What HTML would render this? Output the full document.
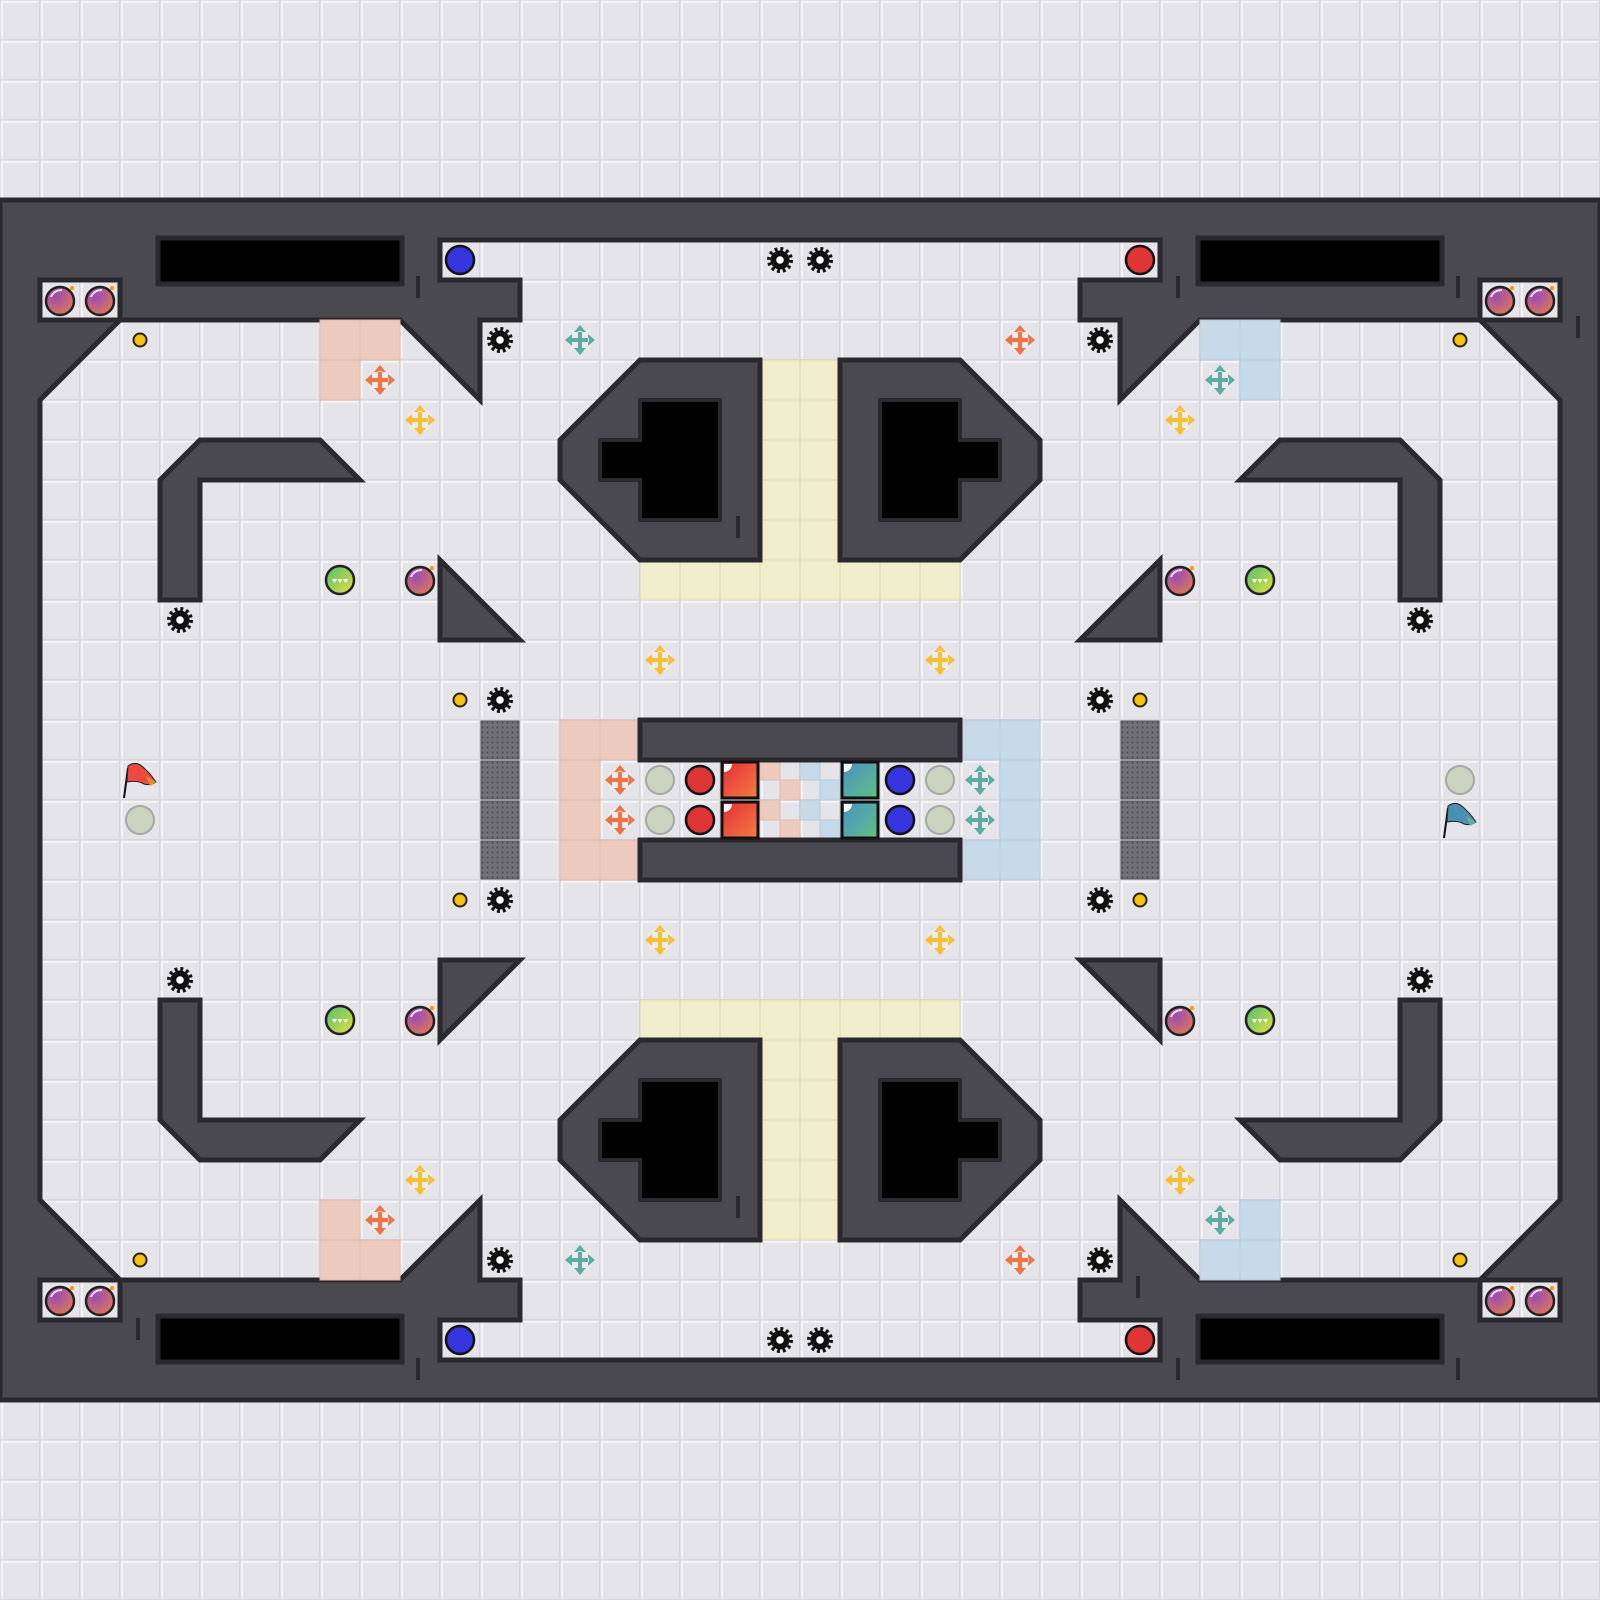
<!DOCTYPE html>
<html><head><meta charset="utf-8"><style>html,body{margin:0;padding:0;background:#e4e4e9}svg{display:block}</style></head><body>
<svg width="1600" height="1600" viewBox="0 0 1600 1600" xmlns="http://www.w3.org/2000/svg">
<defs>
<pattern id="tile" width="40" height="40" patternUnits="userSpaceOnUse"><rect width="40" height="40" fill="#d6d6dc"/><rect x="1" y="1" width="38" height="38" fill="#e4e4e9"/><path d="M1 1.7H39M1.7 1V39" stroke="#f4f4f7" stroke-width="2"/></pattern>
<pattern id="dots" width="5" height="5" patternUnits="userSpaceOnUse"><rect width="5" height="5" fill="#707075"/><circle cx="2.5" cy="2.5" r="1" fill="#4a4a4f"/></pattern>
<radialGradient id="bg" cx="0.35" cy="0.3" r="0.8"><stop offset="0" stop-color="#9a4ab8"/><stop offset="1" stop-color="#e07a50"/></radialGradient>
<linearGradient id="gg" x1="0" y1="0" x2="1" y2="1"><stop offset="0" stop-color="#4cc070"/><stop offset="1" stop-color="#e8e040"/></linearGradient>
<linearGradient id="rs" x1="0" y1="0" x2="1" y2="1"><stop offset="0" stop-color="#e82a3a"/><stop offset="1" stop-color="#f08040"/></linearGradient>
<linearGradient id="bs" x1="0" y1="0" x2="1" y2="1"><stop offset="0" stop-color="#4a90c8"/><stop offset="1" stop-color="#60c080"/></linearGradient>
<symbol id="gear" viewBox="0 0 40 40"><circle cx="20" cy="20" r="10.5" fill="none" stroke="#111" stroke-width="5" stroke-dasharray="2.7 2.8"/><circle cx="20" cy="20" r="9.5" fill="#111"/><circle cx="20" cy="20" r="3.8" fill="#fff"/></symbol>
<symbol id="bomb" viewBox="0 0 40 40"><circle cx="20" cy="21" r="14" fill="url(#bg)" stroke="#222" stroke-width="2.5"/><path d="M11 17 Q14 10 22 10" stroke="#fff" stroke-width="2" fill="none" opacity="0.8"/><circle cx="32" cy="8" r="2" fill="#f90"/></symbol>
<symbol id="green" viewBox="0 0 40 40"><circle cx="20" cy="20" r="14" fill="url(#gg)" stroke="#222" stroke-width="2.5"/><path d="M12 19h5l-2.5 4zM17.5 19h5l-2.5 4zM23 19h5l-2.5 4z" fill="#fff"/></symbol>
<symbol id="ydot" viewBox="0 0 40 40"><circle cx="20" cy="20" r="6.5" fill="#f6c400" stroke="#222" stroke-width="2"/></symbol>
<symbol id="arr" viewBox="0 0 40 40"><circle cx="20" cy="20" r="13" fill="#ececef" stroke="#dcdce0" stroke-dasharray="2 2"/><path d="M18 11h4v18h-4zM11 18h18v4H11zM20 5l-6 7h12zM20 35l-6-7h12zM5 20l7-6v12zM35 20l-7-6v12z"/></symbol>
<symbol id="pale" viewBox="0 0 40 40"><circle cx="20" cy="20" r="14" fill="#cbd4bc" stroke="#a6a6a6" stroke-width="2"/></symbol>
</defs>
<rect width="1600" height="1600" fill="url(#tile)"/>
<!-- frame -->
<rect x="0" y="200" width="1600" height="1200" fill="#4a494f" stroke="#2a292e" stroke-width="5"/>
<!-- bomb boxes -->
<g fill="url(#tile)" stroke="#2a292e" stroke-width="5">
<rect x="40" y="280" width="80" height="40"/><rect x="1480" y="280" width="80" height="40"/>
<rect x="40" y="1280" width="80" height="40"/><rect x="1480" y="1280" width="80" height="40"/>
</g>
<!-- black slots -->
<g fill="#000" stroke="#2a292e" stroke-width="5">
<rect x="158" y="238" width="244" height="46"/><rect x="1198" y="238" width="244" height="46"/>
<rect x="158" y="1316" width="244" height="46"/><rect x="1198" y="1316" width="244" height="46"/>
</g>
<!-- main floor -->
<polygon fill="url(#tile)" stroke="#2a292e" stroke-width="5" stroke-linejoin="miter" points="120,320 400,320 480,400 480,320 520,320 520,280 440,280 440,240 1160,240 1160,280 1080,280 1080,320 1120,320 1120,400 1200,320 1480,320 1560,400 1560,1200 1480,1280 1200,1280 1120,1200 1120,1280 1080,1280 1080,1320 1160,1320 1160,1360 440,1360 440,1320 520,1320 520,1280 480,1280 480,1200 400,1280 120,1280 40,1200 40,400"/>
<!-- tinted tiles -->
<g fill="#eccabd" stroke="#e0bcaf" stroke-width="1">
<rect x="320" y="320" width="40" height="40"/><rect x="360" y="320" width="40" height="40"/><rect x="320" y="360" width="40" height="40"/>
<rect x="320" y="1200" width="40" height="40"/><rect x="320" y="1240" width="40" height="40"/><rect x="360" y="1240" width="40" height="40"/>
<rect x="560" y="720" width="40" height="40"/><rect x="600" y="720" width="40" height="40"/><rect x="560" y="760" width="40" height="40"/><rect x="560" y="800" width="40" height="40"/><rect x="560" y="840" width="40" height="40"/><rect x="600" y="840" width="40" height="40"/>
<rect x="760" y="760" width="20" height="20"/><rect x="780" y="780" width="20" height="20"/><rect x="760" y="800" width="20" height="20"/><rect x="780" y="820" width="20" height="20"/>
</g>
<g fill="#c6d9e7" stroke="#b8ccdb" stroke-width="1">
<rect x="1200" y="320" width="40" height="40"/><rect x="1240" y="320" width="40" height="40"/><rect x="1240" y="360" width="40" height="40"/>
<rect x="1240" y="1200" width="40" height="40"/><rect x="1200" y="1240" width="40" height="40"/><rect x="1240" y="1240" width="40" height="40"/>
<rect x="960" y="720" width="40" height="40"/><rect x="1000" y="720" width="40" height="40"/><rect x="1000" y="760" width="40" height="40"/><rect x="1000" y="800" width="40" height="40"/><rect x="960" y="840" width="40" height="40"/><rect x="1000" y="840" width="40" height="40"/>
<rect x="800" y="760" width="20" height="20"/><rect x="820" y="780" width="20" height="20"/><rect x="800" y="800" width="20" height="20"/><rect x="820" y="820" width="20" height="20"/>
</g>
<g fill="#efedca" stroke="#dcdab5" stroke-width="1">
<rect x="640" y="560" width="40" height="40"/><rect x="680" y="560" width="40" height="40"/><rect x="720" y="560" width="40" height="40"/><rect x="760" y="560" width="40" height="40"/><rect x="800" y="560" width="40" height="40"/><rect x="840" y="560" width="40" height="40"/><rect x="880" y="560" width="40" height="40"/><rect x="920" y="560" width="40" height="40"/>
<rect x="760" y="360" width="40" height="40"/><rect x="800" y="360" width="40" height="40"/><rect x="760" y="400" width="40" height="40"/><rect x="800" y="400" width="40" height="40"/><rect x="760" y="440" width="40" height="40"/><rect x="800" y="440" width="40" height="40"/><rect x="760" y="480" width="40" height="40"/><rect x="800" y="480" width="40" height="40"/><rect x="760" y="520" width="40" height="40"/><rect x="800" y="520" width="40" height="40"/>
<rect x="640" y="1000" width="40" height="40"/><rect x="680" y="1000" width="40" height="40"/><rect x="720" y="1000" width="40" height="40"/><rect x="760" y="1000" width="40" height="40"/><rect x="800" y="1000" width="40" height="40"/><rect x="840" y="1000" width="40" height="40"/><rect x="880" y="1000" width="40" height="40"/><rect x="920" y="1000" width="40" height="40"/>
<rect x="760" y="1040" width="40" height="40"/><rect x="800" y="1040" width="40" height="40"/><rect x="760" y="1080" width="40" height="40"/><rect x="800" y="1080" width="40" height="40"/><rect x="760" y="1120" width="40" height="40"/><rect x="800" y="1120" width="40" height="40"/><rect x="760" y="1160" width="40" height="40"/><rect x="800" y="1160" width="40" height="40"/><rect x="760" y="1200" width="40" height="40"/><rect x="800" y="1200" width="40" height="40"/>
</g>
<!-- obstacles -->
<g fill="#4a494f" stroke="#2a292e" stroke-width="5" stroke-linejoin="miter">
<polygon points="160,600 160,480 200,440 320,440 360,480 200,480 200,600"/>
<polygon points="1440,600 1440,480 1400,440 1280,440 1240,480 1400,480 1400,600"/>
<polygon points="160,1000 200,1000 200,1120 360,1120 320,1160 200,1160 160,1120"/>
<polygon points="1440,1000 1400,1000 1400,1120 1240,1120 1280,1160 1400,1160 1440,1120"/>
<polygon points="440,560 440,640 520,640"/><polygon points="1160,560 1160,640 1080,640"/>
<polygon points="440,960 520,960 440,1040"/><polygon points="1160,960 1080,960 1160,1040"/>
<polygon points="640,360 760,360 760,560 640,560 560,480 560,440"/>
<polygon points="960,360 840,360 840,560 960,560 1040,480 1040,440"/>
<polygon points="640,1240 760,1240 760,1040 640,1040 560,1120 560,1160"/>
<polygon points="960,1240 840,1240 840,1040 960,1040 1040,1120 1040,1160"/>
<rect x="640" y="720" width="320" height="40"/><rect x="640" y="840" width="320" height="40"/>
</g>
<g fill="#000" stroke="#2a292e" stroke-width="4">
<polygon points="600,440 640,440 640,400 720,400 720,520 640,520 640,480 600,480"/>
<polygon points="880,400 960,400 960,440 1000,440 1000,480 960,480 960,520 880,520"/>
<polygon points="600,1120 640,1120 640,1080 720,1080 720,1200 640,1200 640,1160 600,1160"/>
<polygon points="880,1080 960,1080 960,1120 1000,1120 1000,1160 960,1160 960,1200 880,1200"/>
</g>
<g fill="url(#dots)" stroke="#5a5a5f" stroke-width="1">
<rect x="481" y="721" width="38" height="38"/><rect x="481" y="761" width="38" height="38"/><rect x="481" y="801" width="38" height="38"/><rect x="481" y="841" width="38" height="38"/>
<rect x="1121" y="721" width="38" height="38"/><rect x="1121" y="761" width="38" height="38"/><rect x="1121" y="801" width="38" height="38"/><rect x="1121" y="841" width="38" height="38"/>
</g>
<!-- small ticks -->
<g stroke="#2a292e" stroke-width="4">
<line x1="418" y1="276" x2="418" y2="298"/><line x1="1178" y1="276" x2="1178" y2="298"/><line x1="1458" y1="276" x2="1458" y2="298"/><line x1="1578" y1="316" x2="1578" y2="338"/>
<line x1="138" y1="1318" x2="138" y2="1340"/><line x1="418" y1="1358" x2="418" y2="1380"/><line x1="1178" y1="1358" x2="1178" y2="1380"/><line x1="1458" y1="1358" x2="1458" y2="1380"/><line x1="1138" y1="1276" x2="1138" y2="1298"/>
<line x1="738" y1="516" x2="738" y2="538"/><line x1="738" y1="1196" x2="738" y2="1218"/>
</g>
<!-- gears -->
<g>
<use href="#gear" x="480" y="320" width="40" height="40"/><use href="#gear" x="1080" y="320" width="40" height="40"/>
<use href="#gear" x="760" y="240" width="40" height="40"/><use href="#gear" x="800" y="240" width="40" height="40"/>
<use href="#gear" x="160" y="600" width="40" height="40"/><use href="#gear" x="1400" y="600" width="40" height="40"/>
<use href="#gear" x="480" y="680" width="40" height="40"/><use href="#gear" x="1080" y="680" width="40" height="40"/>
<use href="#gear" x="480" y="880" width="40" height="40"/><use href="#gear" x="1080" y="880" width="40" height="40"/>
<use href="#gear" x="160" y="960" width="40" height="40"/><use href="#gear" x="1400" y="960" width="40" height="40"/>
<use href="#gear" x="480" y="1240" width="40" height="40"/><use href="#gear" x="1080" y="1240" width="40" height="40"/>
<use href="#gear" x="760" y="1320" width="40" height="40"/><use href="#gear" x="800" y="1320" width="40" height="40"/>
</g>
<!-- bombs -->
<g>
<use href="#bomb" x="40" y="280" width="40" height="40"/><use href="#bomb" x="80" y="280" width="40" height="40"/>
<use href="#bomb" x="1480" y="280" width="40" height="40"/><use href="#bomb" x="1520" y="280" width="40" height="40"/>
<use href="#bomb" x="40" y="1280" width="40" height="40"/><use href="#bomb" x="80" y="1280" width="40" height="40"/>
<use href="#bomb" x="1480" y="1280" width="40" height="40"/><use href="#bomb" x="1520" y="1280" width="40" height="40"/>
<use href="#bomb" x="400" y="560" width="40" height="40"/><use href="#bomb" x="1160" y="560" width="40" height="40"/>
<use href="#bomb" x="400" y="1000" width="40" height="40"/><use href="#bomb" x="1160" y="1000" width="40" height="40"/>
</g>
<g>
<use href="#green" x="320" y="560" width="40" height="40"/><use href="#green" x="1240" y="560" width="40" height="40"/>
<use href="#green" x="320" y="1000" width="40" height="40"/><use href="#green" x="1240" y="1000" width="40" height="40"/>
</g>
<g>
<use href="#ydot" x="120" y="320" width="40" height="40"/><use href="#ydot" x="1440" y="320" width="40" height="40"/>
<use href="#ydot" x="440" y="680" width="40" height="40"/><use href="#ydot" x="1120" y="680" width="40" height="40"/>
<use href="#ydot" x="440" y="880" width="40" height="40"/><use href="#ydot" x="1120" y="880" width="40" height="40"/>
<use href="#ydot" x="120" y="1240" width="40" height="40"/><use href="#ydot" x="1440" y="1240" width="40" height="40"/>
</g>
<!-- arrows -->
<g fill="#f27240">
<use href="#arr" x="360" y="360" width="40" height="40"/><use href="#arr" x="1000" y="320" width="40" height="40"/>
<use href="#arr" x="600" y="760" width="40" height="40"/><use href="#arr" x="600" y="800" width="40" height="40"/>
<use href="#arr" x="360" y="1200" width="40" height="40"/><use href="#arr" x="1000" y="1240" width="40" height="40"/>
</g>
<g fill="#5eaca2">
<use href="#arr" x="560" y="320" width="40" height="40"/><use href="#arr" x="1200" y="360" width="40" height="40"/>
<use href="#arr" x="960" y="760" width="40" height="40"/><use href="#arr" x="960" y="800" width="40" height="40"/>
<use href="#arr" x="560" y="1240" width="40" height="40"/><use href="#arr" x="1200" y="1200" width="40" height="40"/>
</g>
<g fill="#f5c032">
<use href="#arr" x="400" y="400" width="40" height="40"/><use href="#arr" x="1160" y="400" width="40" height="40"/>
<use href="#arr" x="640" y="640" width="40" height="40"/><use href="#arr" x="920" y="640" width="40" height="40"/>
<use href="#arr" x="640" y="920" width="40" height="40"/><use href="#arr" x="920" y="920" width="40" height="40"/>
<use href="#arr" x="400" y="1160" width="40" height="40"/><use href="#arr" x="1160" y="1160" width="40" height="40"/>
</g>
<!-- circles -->
<g fill="#e03434" stroke="#111" stroke-width="2.5">
<circle cx="1140" cy="260" r="14"/><circle cx="700" cy="780" r="14"/><circle cx="700" cy="820" r="14"/><circle cx="1140" cy="1340" r="14"/>
</g>
<g fill="#3434e0" stroke="#111" stroke-width="2.5">
<circle cx="460" cy="260" r="14"/><circle cx="900" cy="780" r="14"/><circle cx="900" cy="820" r="14"/><circle cx="460" cy="1340" r="14"/>
</g>
<g>
<use href="#pale" x="640" y="760" width="40" height="40"/><use href="#pale" x="640" y="800" width="40" height="40"/>
<use href="#pale" x="920" y="760" width="40" height="40"/><use href="#pale" x="920" y="800" width="40" height="40"/>
<use href="#pale" x="120" y="800" width="40" height="40"/><use href="#pale" x="1440" y="760" width="40" height="40"/>
</g>
<!-- squares -->
<g stroke="#111" stroke-width="3">
<rect x="722" y="762" width="36" height="36" fill="url(#rs)"/><rect x="722" y="802" width="36" height="36" fill="url(#rs)"/>
<rect x="842" y="762" width="36" height="36" fill="url(#bs)"/><rect x="842" y="802" width="36" height="36" fill="url(#bs)"/>
</g>
<g fill="#fff"><path d="M724 764h8a8 8 0 0 1-8 8z"/><path d="M724 804h8a8 8 0 0 1-8 8z"/><path d="M844 764h8a8 8 0 0 1-8 8z"/><path d="M844 804h8a8 8 0 0 1-8 8z"/></g>
<!-- flags -->
<g>
<line x1="128" y1="768" x2="124" y2="798" stroke="#111" stroke-width="2"/>
<path d="M128 766 Q136 760 144 768 L150 774 L156 782 Q150 786 144 784 Q138 780 127 782 Z" fill="#f04a40" stroke="#222" stroke-width="1"/>
<path d="M146 776 L156 782 L150 786 Z" fill="#f08a30"/>
<line x1="1448" y1="808" x2="1444" y2="838" stroke="#111" stroke-width="2"/>
<path d="M1448 806 Q1456 800 1464 808 L1470 814 L1476 822 Q1470 826 1464 824 Q1458 820 1447 822 Z" fill="#4a90b0" stroke="#222" stroke-width="1"/>
<path d="M1466 816 L1476 822 L1470 826 Z" fill="#60b0a0"/>
</g>
</svg>
</body></html>
